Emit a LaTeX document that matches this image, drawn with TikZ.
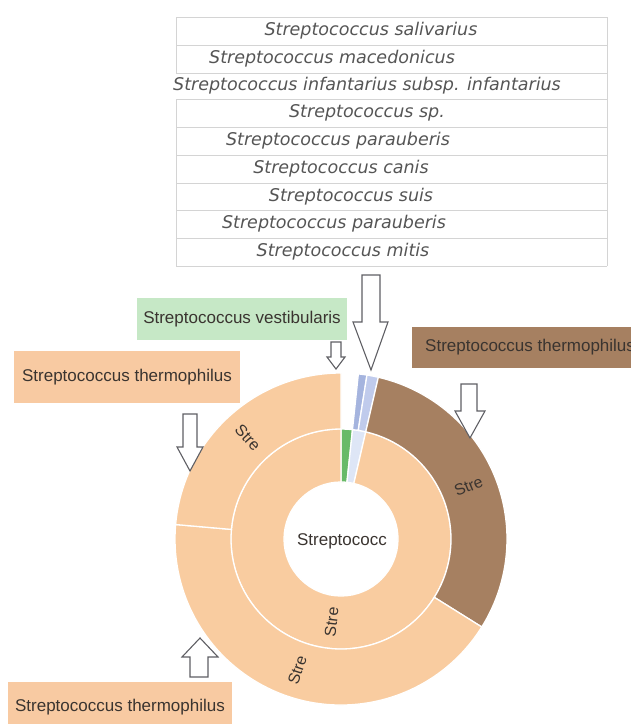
\documentclass[tikz,border=0pt]{standalone}
\usepackage{fontspec}
\setmainfont{Liberation Sans}
\newfontfamily\tabfont{DejaVu Sans}
\definecolor{peach}{RGB}{249,204,160}
\definecolor{lpeach}{RGB}{248,202,162}
\definecolor{brownseg}{RGB}{166,128,97}
\definecolor{greenseg}{RGB}{104,186,104}
\definecolor{greenbox}{RGB}{198,232,198}
\definecolor{blueA}{RGB}{165,180,222}
\definecolor{blueB}{RGB}{192,203,236}
\definecolor{paleblue}{RGB}{222,230,246}
\definecolor{txt}{RGB}{58,52,48}
\definecolor{tabtxt}{RGB}{85,85,85}
\definecolor{tabline}{RGB}{212,212,212}
\definecolor{arrline}{RGB}{95,95,100}
\newcommand\wdg[5]{\path[fill=#5, draw=white, line width=1.3pt] (#1:#3pt) -- (#1:#4pt) arc[start angle=#1, end angle=#2, radius=#4pt] -- (#2:#3pt) arc[start angle=#2, end angle=#1, radius=#3pt] -- cycle;}
\begin{document}
\begin{tikzpicture}[x=1pt,y=-1pt,
  rowtxt/.style={font=\tabfont\itshape\fontsize{17.5}{20}\selectfont, text=tabtxt, inner sep=0pt},
  lblbox/.style={font=\fontsize{17}{20}\selectfont, text=txt, inner sep=0pt},
  segtxt/.style={font=\fontsize{16}{18}\selectfont, text=txt, inner sep=0pt},
  blockarr/.style={draw=arrline, fill=white, line width=1.1pt, line join=miter}]
\useasboundingbox (0,0) rectangle (631,724);
\begin{scope}
\clip (0,0) rectangle (631,724);
% table
\foreach \yy in {17,45,73,99,127,155,183,210,238,266}{\draw[tabline, line width=0.8pt] (176,\yy) -- (607,\yy);}
\draw[tabline, line width=0.8pt] (607,17) -- (607,266);
\draw[tabline, line width=0.8pt] (176,17) -- (176,73);
\draw[tabline, line width=0.8pt] (176,99) -- (176,266);
\node (r1) [rowtxt] at (371,31) {Streptococcus salivarius};
\node (r2) [rowtxt] at (332,59) {Streptococcus macedonicus};
\node (r3) [rowtxt] at (367,86) {Streptococcus infantarius subsp. infantarius};
\node (r4) [rowtxt] at (367,113) {Streptococcus sp.};
\node (r5) [rowtxt] at (338,141) {Streptococcus parauberis};
\node (r6) [rowtxt] at (341,169) {Streptococcus canis};
\node (r7) [rowtxt] at (351,196.5) {Streptococcus suis};
\node (r8) [rowtxt] at (334,224) {Streptococcus parauberis};
\node (r9) [rowtxt] at (343,252) {Streptococcus mitis};
% sunburst
\begin{scope}[shift={(341,539)}, x=1pt, y=1pt]
\wdg{90}{84}{57}{110}{greenseg}
\wdg{84}{77}{57}{110}{paleblue}
\wdg{77}{-270}{57}{110}{peach}
\wdg{84}{81}{110}{166}{blueA}
\wdg{81}{77}{110}{166}{blueB}
\wdg{77}{-32}{110}{166}{brownseg}
\wdg{-32}{-185}{110}{166}{peach}
\wdg{-185}{-270}{110}{166}{peach}
\node (s1) [segtxt, rotate=-47.5] at (132.5:138pt) {Stre};
\node (s2) [segtxt, rotate=22.5] at (22.5:138pt) {Stre};
\node (s3) [segtxt, rotate=71.5] at (-108.5:138pt) {Stre};
\node (s4) [segtxt, rotate=83.5] at (-96.5:83.5pt) {Stre};
\node (ctr) [lblbox] at (1,-2) {Streptococc};
\end{scope}
% label boxes
\node (vest) [lblbox, fill=greenbox, minimum width=210pt, minimum height=42pt] at (242,319) {Streptococcus vestibularis};
\node (thL) [lblbox, fill=lpeach, minimum width=226pt, minimum height=52pt] at (127,377) {Streptococcus thermophilus};
\node (thB) [lblbox, fill=lpeach, minimum width=224pt, minimum height=50pt] at (120,707) {Streptococcus thermophilus};
\node (thR) [lblbox, fill=brownseg, anchor=west, minimum height=41pt, inner xsep=13pt] at (412,347.5) {Streptococcus thermophilus};
% block arrows
\draw[blockarr] (362,275) -- (380,275) -- (380,322) -- (388,322) -- (371,370) -- (353,322) -- (362,322) -- cycle;
\draw[blockarr] (331,342) -- (341,342) -- (341,357) -- (345,357) -- (336,369) -- (327,357) -- (331,357) -- cycle;
\draw[blockarr] (183,414) -- (197,414) -- (197,447) -- (203,447) -- (190,471) -- (177,447) -- (183,447) -- cycle;
\draw[blockarr] (461,384) -- (477,384) -- (477,411) -- (485,411) -- (470,438) -- (455,411) -- (461,411) -- cycle;
\draw[blockarr] (190,677) -- (208,677) -- (208,657) -- (218,657) -- (200,638) -- (182,657) -- (190,657) -- cycle;
\end{scope}
\end{tikzpicture}
\end{document}
